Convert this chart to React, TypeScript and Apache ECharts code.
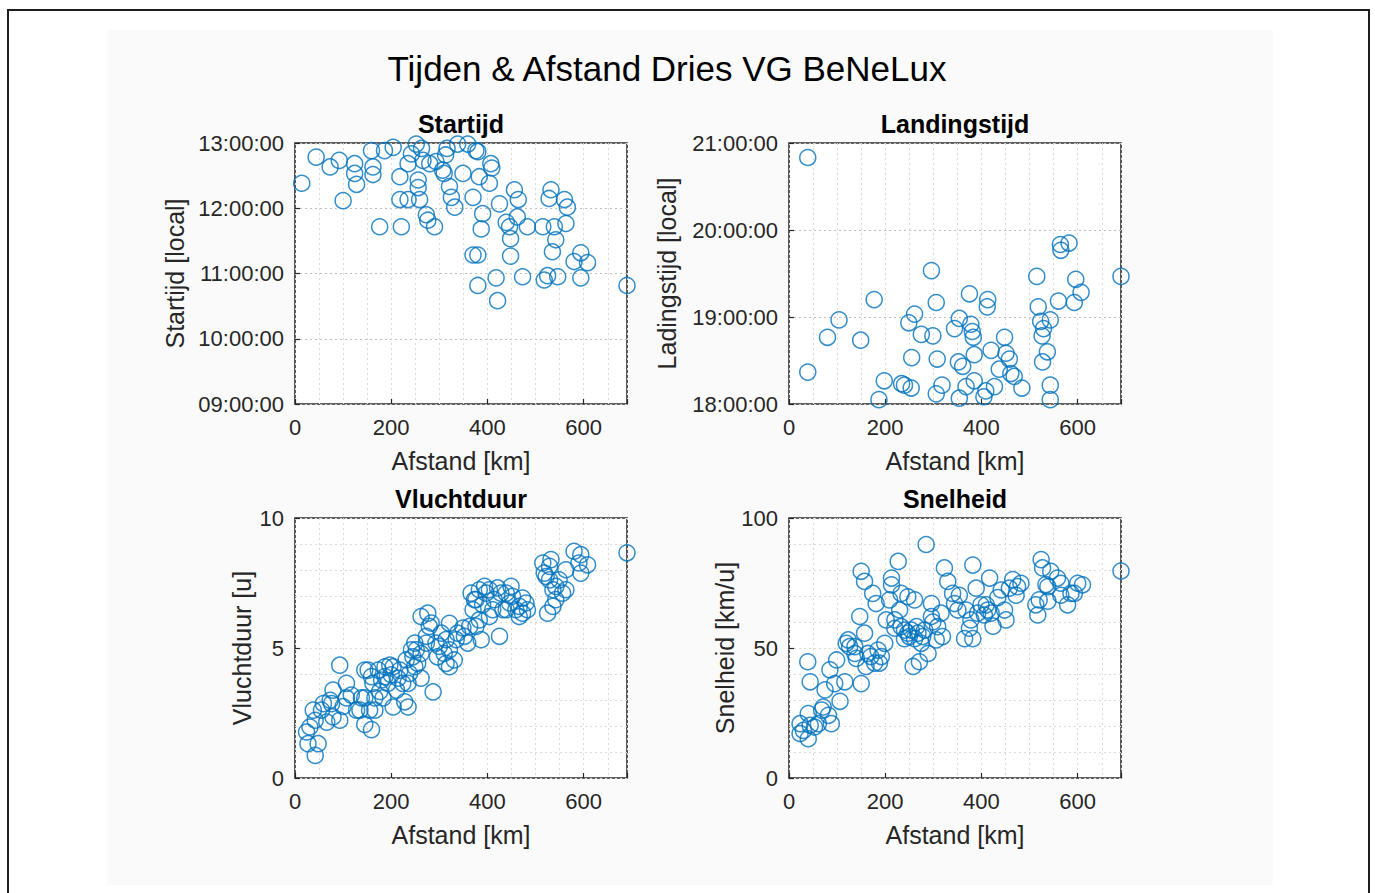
import React, { useEffect, useRef } from "react";
import * as echarts from "echarts";

// ---------- data ----------
const startDist = [14, 44, 73, 92, 100, 124, 124, 128, 159, 162, 162, 176, 186, 204, 218, 218, 221, 235, 235, 242, 252, 256, 256, 259, 263, 266, 273, 276, 290, 280, 293, 307, 310, 313, 316, 321, 325, 332, 338, 349, 359, 370, 376, 380, 370, 380, 380, 383, 387, 390, 404, 407, 409, 418, 421, 425, 439, 446, 448, 448, 456, 462, 464, 473, 483, 515, 518, 525, 532, 528, 539, 542, 535, 546, 560, 566, 563, 580, 594, 608, 594, 690];
const startTime = ["12:23", "12:47", "12:38", "12:44", "12:07", "12:41", "12:32", "12:22", "12:53", "12:38", "12:31", "11:43", "12:53", "12:56", "12:29", "12:08", "11:43", "12:08", "12:41", "12:50", "12:59", "12:26", "12:19", "12:08", "12:55", "12:44", "11:54", "11:49", "11:43", "12:41", "12:43", "12:35", "12:32", "12:49", "12:55", "12:20", "12:10", "12:01", "12:59", "12:32", "12:59", "12:10", "12:53", "11:17", "11:17", "10:49", "12:52", "12:29", "11:41", "11:55", "12:23", "12:41", "12:37", "10:56", "10:35", "12:04", "11:47", "11:43", "11:32", "11:16", "12:17", "11:52", "12:08", "10:57", "11:43", "11:43", "10:54", "10:58", "12:17", "12:09", "11:43", "11:31", "11:20", "10:57", "12:08", "12:01", "11:46", "11:11", "11:19", "11:10", "10:56", "10:49"];

const landDist = [39, 39, 80, 104, 149, 177, 187, 198, 234, 240, 254, 249, 261, 255, 275, 299, 296, 306, 308, 306, 318, 344, 354, 352, 361, 354, 375, 378, 381, 383, 385, 368, 385, 405, 409, 413, 412, 420, 427, 437, 448, 451, 458, 461, 468, 484, 515, 518, 523, 526, 529, 537, 527, 543, 543, 543, 560, 564, 565, 582, 593, 596, 607, 690];
const landTime = ["20:50", "18:22", "18:46", "18:58", "18:44", "19:12", "18:03", "18:16", "18:14", "18:13", "18:11", "18:56", "19:02", "18:32", "18:48", "18:47", "19:32", "19:10", "18:31", "18:07", "18:13", "18:52", "18:59", "18:29", "18:26", "18:04", "19:16", "18:55", "18:50", "18:46", "18:34", "18:12", "18:16", "18:05", "18:09", "19:12", "19:07", "18:37", "18:12", "18:24", "18:46", "18:35", "18:31", "18:21", "18:19", "18:11", "19:28", "19:07", "18:57", "18:47", "18:52", "18:36", "18:29", "18:58", "18:13", "18:03", "19:11", "19:50", "19:46", "19:51", "19:10", "19:26", "19:17", "19:28"];

const durDist = [24, 27, 42, 48, 42, 38, 59, 66, 79, 93, 93, 100, 107, 117, 128, 138, 145, 152, 155, 159, 162, 166, 173, 180, 183, 197, 193, 200, 211, 218, 224, 228, 235, 238, 245, 252, 255, 262, 262, 276, 279, 287, 293, 304, 310, 321, 321, 331, 335, 349, 359, 366, 370, 376, 383, 387, 390, 404, 414, 421, 425, 432, 446, 449, 459, 466, 473, 483, 515, 518, 529, 536, 525, 536, 542, 563, 563, 580, 594, 608, 594, 690, 145, 79, 73, 166, 187, 204, 231, 249, 273, 296, 314, 338, 376, 397, 439, 404, 480, 529, 549, 532,
  31, 55, 76, 107, 135, 145, 159, 176, 187, 204, 214, 235, 242, 249, 262, 273, 283, 300, 314, 321, 352, 363, 373, 383, 394, 411, 428, 439, 452, 466, 473, 522, 542, 556, 590];
const durHours = [1.77, 1.32, 0.87, 1.32, 2.22, 2.61, 2.86, 2.15, 3.38, 4.34, 2.22, 2.75, 3.64, 3.19, 2.61, 3.08, 2.06, 4.15, 2.61, 1.86, 3.64, 3.08, 4.15, 3.77, 3.08, 4.34, 3.64, 3.97, 3.38, 4.15, 3.64, 2.93, 2.73, 4.02, 4.66, 4.93, 4.41, 3.84, 6.21, 6.34, 5.83, 3.31, 5.19, 5.57, 4.79, 5.95, 4.28, 4.54, 5.32, 5.77, 5.19, 7.11, 6.47, 5.83, 7.24, 5.32, 6.66, 6.21, 6.86, 7.31, 5.45, 6.47, 6.73, 7.37, 6.47, 6.21, 6.92, 6.47, 8.27, 7.88, 8.14, 7.24, 6.34, 6.6, 6.86, 7.24, 8.01, 8.72, 8.59, 8.2, 7.88, 8.66, 4.15, 2.35, 2.99, 2.61, 4.28, 2.73, 4.54, 4.28, 5.45, 4.66, 5.32, 5.57, 6.86, 7.11, 7.11, 7.24, 6.73, 7.62, 7.62, 8.4,
  1.96, 2.61, 2.86, 3.08, 2.61, 3.08, 3.9, 3.33, 3.9, 4.28, 3.84, 3.64, 4.93, 5.19, 4.79, 5.19, 5.96, 5.06, 4.41, 4.93, 5.45, 5.83, 6.86, 6.08, 7.37, 6.47, 7.11, 6.47, 6.99, 6.6, 6.34, 7.75, 7.37, 7.11, 8.27];

const speedDist = [23, 23, 40, 40, 44, 61, 68, 88, 82, 44, 39, 75, 85, 99, 106, 116, 123, 126, 137, 147, 150, 150, 157, 157, 160, 170, 174, 181, 185, 188, 199, 202, 209, 213, 213, 220, 227, 230, 233, 240, 247, 250, 258, 261, 268, 271, 278, 285, 289, 296, 299, 306, 316, 319, 323, 330, 344, 354, 365, 368, 375, 382, 382, 389, 399, 406, 413, 417, 424, 434, 448, 451, 458, 465, 472, 482, 513, 517, 524, 527, 534, 538, 544, 558, 565, 579, 593, 600, 610, 690,
  30, 53, 71, 95, 119, 137, 140, 164, 178, 192, 220, 233, 240, 247, 254, 261, 265, 275, 282, 296, 309, 340, 351, 378, 392, 410, 420, 441, 475, 520, 538, 565, 586];
const speedKmh = [20.9, 17.1, 15.1, 24.8, 20.3, 20.9, 26.1, 20.9, 24.1, 37.0, 44.7, 33.9, 41.6, 45.4, 29.5, 37.0, 53.1, 50.5, 47.9, 62.1, 36.3, 79.5, 75.6, 55.7, 42.9, 46.7, 71.0, 67.1, 49.2, 44.2, 51.8, 60.8, 68.5, 76.9, 74.3, 57.6, 83.3, 64.6, 71.0, 56.9, 69.7, 54.4, 42.9, 68.5, 55.7, 44.7, 54.4, 89.8, 47.9, 67.1, 60.0, 53.1, 63.4, 54.4, 80.8, 75.6, 67.1, 70.3, 53.6, 64.6, 57.6, 81.9, 53.6, 73.0, 66.6, 62.7, 64.6, 76.9, 58.4, 69.4, 64.6, 60.8, 73.0, 76.3, 70.3, 74.9, 66.6, 62.7, 84.0, 80.8, 74.4, 68.0, 79.5, 76.9, 70.3, 66.6, 71.0, 74.9, 74.3, 79.6,
  18.3, 19.6, 27.3, 36.3, 51.8, 50.5, 46.0, 47.9, 44.2, 46.7, 60.8, 58.2, 53.6, 55.7, 56.9, 53.6, 58.2, 51.8, 56.9, 62.1, 58.2, 71.0, 64.6, 60.8, 63.4, 66.6, 63.4, 72.3, 73.6, 68.5, 73.6, 74.9, 71.0];

const mainTitle = "Tijden & Afstand Dries VG BeNeLux";
const panelTitles = ["Startijd", "Landingstijd", "Vluchtduur", "Snelheid"];
const yNames = ["Startijd [local]", "Ladingstijd [local]", "Vluchtduur [u]", "Snelheid [km/u]"];
const xName = "Afstand [km]";

// ---------- helpers ----------
const FONT = "'Liberation Sans', Arial, Helvetica, sans-serif";
const TXT = "#262626";
const BLUE = "#0072BD";
const toHours = (s: string) => {
  const [h, m] = s.split(":").map(Number);
  return h + m / 60;
};
const pair = (xs: number[], ys: number[]) => xs.map((x, i) => [x, ys[i]]);
const timeFmt = (v: number) => `${String(Math.round(v)).padStart(2, "0")}:00:00`;

const grids = [
  { left: 295, top: 143, width: 332, height: 261 },
  { left: 789, top: 143, width: 332, height: 261 },
  { left: 295, top: 518, width: 332, height: 260 },
  { left: 789, top: 518, width: 332, height: 260 },
];

const yCfg = [
  { min: 9, max: 13, interval: 1, minor: 1, fmt: timeFmt, nameGap: 108, showMinor: false },
  { min: 18, max: 21, interval: 1, minor: 1, fmt: timeFmt, nameGap: 110, showMinor: false },
  { min: 0, max: 10, interval: 5, minor: 1, fmt: (v: number) => String(v), nameGap: 41, showMinor: true },
  { min: 0, max: 100, interval: 50, minor: 10, fmt: (v: number) => String(v), nameGap: 46, showMinor: true },
];

const seriesData = [
  pair(startDist, startTime.map(toHours)),
  pair(landDist, landTime.map(toHours)),
  pair(durDist, durHours),
  pair(speedDist, speedKmh),
];

export default function App() {
  const ref = useRef<HTMLDivElement>(null);
  useEffect(() => {
    if (!ref.current) return;
    const chart = echarts.init(ref.current, undefined, { renderer: "svg" });

    const majorSplit = { show: true, lineStyle: { color: "#c4beb8", type: [2, 3], width: 1 } };
    const minorSplit = { show: true, lineStyle: { color: "#dedad6", type: [2, 3], width: 1 } };

    const xAxis: any[] = [];
    const yAxis: any[] = [];
    grids.forEach((_, g) => {
      xAxis.push({
        type: "value", gridIndex: g, min: 0, max: 690, interval: 200, position: "bottom",
        name: xName, nameLocation: "middle", nameGap: 44,
        nameTextStyle: { fontFamily: FONT, fontSize: 25, color: TXT },
        axisLine: { show: false },
        axisTick: { show: true, inside: true, length: 5, lineStyle: { color: TXT, width: 1.2 } },
        axisLabel: { show: true, fontFamily: FONT, fontSize: 22, color: TXT, margin: 12,
          formatter: (v: number) => (v % 200 === 0 ? String(v) : "") },
        splitLine: majorSplit,
      });
      xAxis.push({
        type: "value", gridIndex: g, min: 0, max: 690, interval: 50, position: "bottom",
        axisLine: { show: false }, axisTick: { show: false }, axisLabel: { show: false },
        splitLine: minorSplit,
      });
      const c = yCfg[g];
      yAxis.push({
        type: "value", gridIndex: g, min: c.min, max: c.max, interval: c.interval, position: "left",
        name: yNames[g], nameLocation: "middle", nameGap: c.nameGap,
        nameTextStyle: { fontFamily: FONT, fontSize: 25, color: TXT },
        axisLine: { show: false },
        axisTick: { show: true, inside: true, length: 5, lineStyle: { color: TXT, width: 1.2 } },
        axisLabel: { show: true, fontFamily: FONT, fontSize: 22, color: TXT, margin: 11, formatter: c.fmt },
        splitLine: majorSplit,
      });
      yAxis.push({
        type: "value", gridIndex: g, min: c.min, max: c.max, interval: c.minor, position: "left",
        axisLine: { show: false }, axisTick: { show: false }, axisLabel: { show: false },
        splitLine: c.showMinor ? minorSplit : { show: false },
      });
    });

    const graphic: any[] = [
      { type: "rect", z: -10, silent: true, shape: { x: 107, y: 30, width: 1166, height: 855 }, style: { fill: "#fafafa" } },
      { type: "polyline", z: 100, silent: true, shape: { points: [[8, 900], [8, 10], [1369, 10], [1369, 900]] }, style: { stroke: "#1e1e1e", lineWidth: 2, fill: null } },
      { type: "text", x: 667, y: 68, style: { text: mainTitle, fontFamily: FONT, fontSize: 35, fill: "#000", align: "center", verticalAlign: "middle" } },
    ];
    const titlePos = [[461, 124], [955, 124], [461, 499], [955, 499]];
    panelTitles.forEach((t, i) => {
      graphic.push({ type: "text", x: titlePos[i][0], y: titlePos[i][1], style: { text: t, fontFamily: FONT, fontSize: 25, fontWeight: "bold", fill: "#000", align: "center", verticalAlign: "middle" } });
    });

    chart.setOption({
      animation: false,
      backgroundColor: "#ffffff",
      grid: grids.map((g) => ({ ...g, show: true, backgroundColor: "#ffffff", borderColor: "#2e2e2e", borderWidth: 1.6, containLabel: false })),
      xAxis,
      yAxis,
      graphic,
      series: seriesData.map((d, g) => ({
        type: "scatter",
        xAxisIndex: 2 * g,
        yAxisIndex: 2 * g,
        data: d,
        clip: false,
        symbol: "circle",
        symbolSize: 16,
        itemStyle: { color: "rgba(0,0,0,0)", borderColor: BLUE, borderWidth: 1.5 },
        z: 5,
      })),
    });
    return () => chart.dispose();
  }, []);
  return <div ref={ref} style={{ position: "fixed", left: 0, top: 0, width: 1375, height: 893 }} />;
}
